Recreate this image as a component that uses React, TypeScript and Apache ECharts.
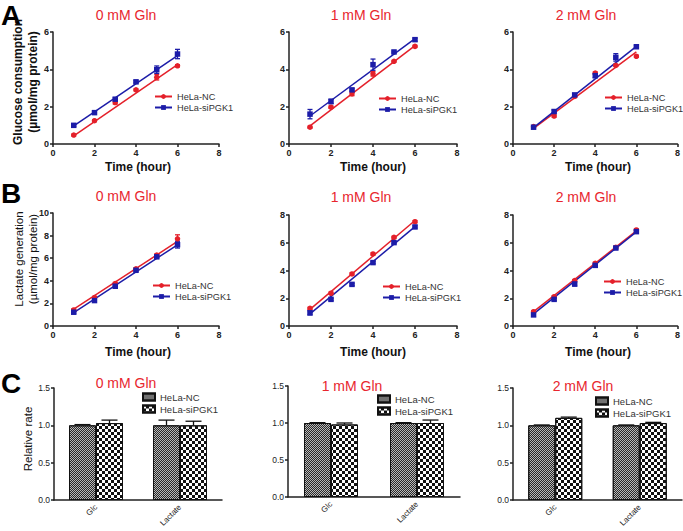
import React, { useEffect, useRef } from "react";
import * as echarts from "echarts";

// ---------- DATA ----------
const hours = [1, 2, 3, 4, 5, 6];
const fitHours = [1, 6];
const conditions = ["0 mM Gln", "1 mM Gln", "2 mM Gln"];
const seriesNames = ["HeLa-NC", "HeLa-siPGK1"];
const barCategories = ["Glc", "Lactate"];
const xTicksMax = 8;
const glcYMax = [6, 6, 6];
const lacYMax = [10, 8, 8];

// Glucose consumption (µmol/mg protein)
const glc0NC = [0.48, 1.25, 2.22, 2.9, 3.58, 4.19];
const glc0NCErr = [0.05, 0.05, 0.08, 0.05, 0.15, 0.06];
const glc0Si = [1.0, 1.68, 2.4, 3.33, 3.98, 4.82];
const glc0SiErr = [0.05, 0.05, 0.08, 0.06, 0.2, 0.25];
const glc0NCFit = [0.43, 4.25];
const glc0SiFit = [0.97, 4.73];

const glc1NC = [0.9, 1.97, 2.69, 3.76, 4.43, 5.23];
const glc1NCErr = [0.05, 0.06, 0.1, 0.12, 0.05, 0.06];
const glc1Si = [1.6, 2.28, 2.9, 4.25, 4.93, 5.59];
const glc1SiErr = [0.25, 0.12, 0.06, 0.3, 0.05, 0.08];
const glc1NCFit = [0.97, 5.27];
const glc1SiFit = [1.5, 5.64];

const glc2NC = [0.93, 1.5, 2.55, 3.8, 4.21, 4.7];
const glc2NCErr = [0.05, 0.06, 0.06, 0.06, 0.05, 0.06];
const glc2Si = [0.9, 1.74, 2.63, 3.66, 4.64, 5.21];
const glc2SiErr = [0.05, 0.08, 0.05, 0.1, 0.2, 0.06];
const glc2NCFit = [0.84, 4.93];
const glc2SiFit = [0.88, 5.23];

// Lactate generation (µmol/mg protein)
const lac0NC = [1.42, 2.52, 3.76, 5.06, 6.27, 7.72];
const lac0NCErr = [0.1, 0.1, 0.1, 0.1, 0.1, 0.35];
const lac0Si = [1.22, 2.25, 3.52, 4.93, 6.12, 7.2];
const lac0SiErr = [0.08, 0.08, 0.08, 0.08, 0.1, 0.3];
const lac0NCFit = [1.5, 7.48];
const lac0SiFit = [1.18, 7.19];

const lac1NC = [1.27, 2.36, 3.75, 5.19, 6.39, 7.52];
const lac1NCErr = [0.08, 0.08, 0.08, 0.08, 0.08, 0.08];
const lac1Si = [0.95, 1.92, 3.0, 4.57, 6.01, 7.14];
const lac1SiErr = [0.15, 0.08, 0.08, 0.08, 0.08, 0.08];
const lac1NCFit = [1.2, 7.6];
const lac1SiFit = [0.87, 7.16];

const lac2NC = [1.03, 2.11, 3.27, 4.52, 5.67, 6.92];
const lac2NCErr = [0.08, 0.08, 0.08, 0.08, 0.08, 0.08];
const lac2Si = [0.8, 1.92, 3.03, 4.37, 5.62, 6.8];
const lac2SiErr = [0.1, 0.08, 0.15, 0.08, 0.08, 0.08];
const lac2NCFit = [1.03, 6.85];
const lac2SiFit = [0.87, 6.78];

// Relative rate (Glc, Lactate)
const rel0NC = [1.0, 1.0];
const rel0NCErr = [0.01, 0.07];
const rel0Si = [1.03, 1.0];
const rel0SiErr = [0.04, 0.055];
const rel1NC = [1.0, 1.0];
const rel1NCErr = [0.005, 0.005];
const rel1Si = [0.98, 1.0];
const rel1SiErr = [0.02, 0.04];
const rel2NC = [1.0, 1.0];
const rel2NCErr = [0.005, 0.005];
const rel2Si = [1.1, 1.03];
const rel2SiErr = [0.01, 0.01];

// ---------- STYLE / LAYOUT ----------
const FONT = "'Liberation Sans', Arial, Helvetica, sans-serif";
const RED = "#e4202a";
const BLUE = "#1c1ca8";
const TITLE_RED = "#e8262e";
const AXIS = "#222";

const linePanels = [
  { nc: glc0NC, ncErr: glc0NCErr, ncFit: glc0NCFit, si: glc0Si, siErr: glc0SiErr, siFit: glc0SiFit, yMax: glcYMax[0] },
  { nc: glc1NC, ncErr: glc1NCErr, ncFit: glc1NCFit, si: glc1Si, siErr: glc1SiErr, siFit: glc1SiFit, yMax: glcYMax[1] },
  { nc: glc2NC, ncErr: glc2NCErr, ncFit: glc2NCFit, si: glc2Si, siErr: glc2SiErr, siFit: glc2SiFit, yMax: glcYMax[2] },
  { nc: lac0NC, ncErr: lac0NCErr, ncFit: lac0NCFit, si: lac0Si, siErr: lac0SiErr, siFit: lac0SiFit, yMax: lacYMax[0] },
  { nc: lac1NC, ncErr: lac1NCErr, ncFit: lac1NCFit, si: lac1Si, siErr: lac1SiErr, siFit: lac1SiFit, yMax: lacYMax[1] },
  { nc: lac2NC, ncErr: lac2NCErr, ncFit: lac2NCFit, si: lac2Si, siErr: lac2SiErr, siFit: lac2SiFit, yMax: lacYMax[2] },
];
const barPanels = [
  { nc: rel0NC, ncErr: rel0NCErr, si: rel0Si, siErr: rel0SiErr },
  { nc: rel1NC, ncErr: rel1NCErr, si: rel1Si, siErr: rel1SiErr },
  { nc: rel2NC, ncErr: rel2NCErr, si: rel2Si, siErr: rel2SiErr },
];

const grids = [
  { left: 53, top: 32, width: 166, height: 112 },
  { left: 289, top: 32, width: 168, height: 112 },
  { left: 513, top: 32, width: 168, height: 112 },
  { left: 53, top: 213, width: 166, height: 113 },
  { left: 289, top: 215, width: 168, height: 111 },
  { left: 513, top: 215, width: 168, height: 111 },
  { left: 54, top: 388, width: 168, height: 112 },
  { left: 288, top: 386, width: 172, height: 111 },
  { left: 513, top: 388, width: 169, height: 112 },
];
const legendPos = [
  [154, 92], [378, 94], [604, 93],
  [152, 281], [382, 282], [603, 277],
  [142, 392], [377, 394], [595, 396],
];
const titlePos = [
  [126, 15], [361, 15], [586, 15],
  [126, 196], [361, 197], [586, 197],
  [126, 383], [352, 386], [583, 386],
];
const timeLabelPos = [
  [138, 167], [373, 167], [598, 167],
  [138, 352], [373, 352], [598, 352],
];
const BAR_W = 27;

const axisLineStyle = { color: AXIS, width: 1.5 };

function errRender(color: string, cap: number) {
  return (params: any, api: any) => {
    const x = api.value(0);
    const y = api.value(1);
    const e = api.value(2);
    const t = api.coord([x, y + e]);
    const b = api.coord([x, y - e]);
    const st = { stroke: color, lineWidth: 1.3 };
    return {
      type: "group",
      children: [
        { type: "line", shape: { x1: t[0], y1: t[1], x2: b[0], y2: b[1] }, style: st },
        { type: "line", shape: { x1: t[0] - cap, y1: t[1], x2: t[0] + cap, y2: t[1] }, style: st },
        { type: "line", shape: { x1: b[0] - cap, y1: b[1], x2: b[0] + cap, y2: b[1] }, style: st },
      ],
    };
  };
}

function barErrRender(offset: number) {
  return (params: any, api: any) => {
    const i = api.value(0);
    const v = api.value(1);
    const e = api.value(2);
    const base = api.coord([i, v]);
    const top = api.coord([i, v + e]);
    const cx = base[0] + offset;
    const st = { stroke: "#111", lineWidth: 1.3 };
    return {
      type: "group",
      children: [
        { type: "line", shape: { x1: cx, y1: base[1], x2: cx, y2: top[1] }, style: st },
        { type: "line", shape: { x1: cx - 8, y1: top[1], x2: cx + 8, y2: top[1] }, style: st },
      ],
    };
  };
}

const ncDecal = {
  symbol: "rect",
  symbolSize: 1,
  color: "#2a2a2a",
  dashArrayX: [[1, 1], [0, 1, 1, 0]],
  dashArrayY: [1, 0],
  rotation: 0,
};
const siDecal = {
  symbol: "rect",
  symbolSize: 1,
  color: "#111",
  dashArrayX: [[3, 3], [0, 3, 3, 0]],
  dashArrayY: [3, 0],
  rotation: 0,
};

function buildOption() {
  const xAxis: any[] = [];
  const yAxis: any[] = [];
  const series: any[] = [];
  const legend: any[] = [];
  const graphic: any[] = [];

  linePanels.forEach((p, g) => {
    xAxis.push({
      type: "value", gridIndex: g, min: 0, max: xTicksMax, interval: 2,
      axisLine: { show: true, onZero: false, lineStyle: axisLineStyle },
      axisTick: { show: true, length: 3, lineStyle: axisLineStyle },
      axisLabel: { fontSize: 9, fontWeight: "bold", color: AXIS, fontFamily: FONT, margin: 4 },
      splitLine: { show: false },
    });
    yAxis.push({
      type: "value", gridIndex: g, min: 0, max: p.yMax, interval: 2,
      axisLine: { show: true, onZero: false, lineStyle: axisLineStyle },
      axisTick: { show: true, length: 3, lineStyle: axisLineStyle },
      axisLabel: { fontSize: 9, fontWeight: "bold", color: AXIS, fontFamily: FONT, margin: 4 },
      splitLine: { show: false },
    });
    series.push({
      type: "line", name: seriesNames[0], xAxisIndex: g, yAxisIndex: g,
      data: fitHours.map((h, i) => [h, p.ncFit[i]]),
      symbol: "circle", symbolSize: 6, showSymbol: false,
      lineStyle: { color: RED, width: 1.5 }, itemStyle: { color: RED }, z: 2,
    });
    series.push({
      type: "line", name: seriesNames[1], xAxisIndex: g, yAxisIndex: g,
      data: fitHours.map((h, i) => [h, p.siFit[i]]),
      symbol: "rect", symbolSize: 6, showSymbol: false,
      lineStyle: { color: BLUE, width: 1.5 }, itemStyle: { color: BLUE }, z: 2,
    });
    series.push({
      type: "custom", name: seriesNames[0], xAxisIndex: g, yAxisIndex: g,
      data: hours.map((h, i) => [h, p.nc[i], p.ncErr[i]]),
      encode: { x: 0, y: 1 }, renderItem: errRender(RED, 2.5), z: 3,
    });
    series.push({
      type: "custom", name: seriesNames[1], xAxisIndex: g, yAxisIndex: g,
      data: hours.map((h, i) => [h, p.si[i], p.siErr[i]]),
      encode: { x: 0, y: 1 }, renderItem: errRender(BLUE, 2.5), z: 3,
    });
    series.push({
      type: "scatter", name: seriesNames[0], xAxisIndex: g, yAxisIndex: g,
      data: hours.map((h, i) => [h, p.nc[i]]),
      symbol: "circle", symbolSize: 5.5, itemStyle: { color: RED, opacity: 1 }, z: 4,
    });
    series.push({
      type: "scatter", name: seriesNames[1], xAxisIndex: g, yAxisIndex: g,
      data: hours.map((h, i) => [h, p.si[i]]),
      symbol: "rect", symbolSize: 5.5, itemStyle: { color: BLUE, opacity: 1 }, z: 4,
    });
    legend.push({
      data: seriesNames, orient: "vertical", left: legendPos[g][0], top: legendPos[g][1],
      itemWidth: 17, itemHeight: 6, itemGap: 2, padding: 0, selectedMode: false,
      textStyle: { fontSize: 9.2, color: "#333", fontFamily: FONT },
    });
  });

  barPanels.forEach((p, k) => {
    const g = k + 6;
    xAxis.push({
      type: "category", gridIndex: g, data: barCategories,
      axisLine: { show: true, lineStyle: axisLineStyle },
      axisTick: { show: false },
      axisLabel: { fontSize: 8, rotate: 45, color: AXIS, fontFamily: FONT, margin: 6 },
    });
    yAxis.push({
      type: "value", gridIndex: g, min: 0, max: 1.5, interval: 0.5,
      axisLine: { show: true, lineStyle: axisLineStyle },
      axisTick: { show: true, length: 3, lineStyle: axisLineStyle },
      axisLabel: { fontSize: 8.5, color: AXIS, fontFamily: FONT, margin: 4, formatter: (v: number) => v.toFixed(1) },
      splitLine: { show: false },
    });
    series.push({
      type: "bar", name: seriesNames[0] + "#bar", xAxisIndex: g, yAxisIndex: g,
      data: p.nc, barWidth: BAR_W, barGap: "0%",
      itemStyle: { color: "#b8b8b8", borderColor: "#111", borderWidth: 1, decal: ncDecal },
    });
    series.push({
      type: "bar", name: seriesNames[1] + "#bar", xAxisIndex: g, yAxisIndex: g,
      data: p.si, barWidth: BAR_W, barGap: "0%",
      itemStyle: { color: "#fff", borderColor: "#111", borderWidth: 1, decal: siDecal },
    });
    series.push({
      type: "custom", xAxisIndex: g, yAxisIndex: g,
      data: barCategories.map((c, i) => [i, p.nc[i], p.ncErr[i]]),
      encode: { x: 0, y: 1 }, renderItem: barErrRender(-BAR_W / 2), z: 5,
    });
    series.push({
      type: "custom", xAxisIndex: g, yAxisIndex: g,
      data: barCategories.map((c, i) => [i, p.si[i], p.siErr[i]]),
      encode: { x: 0, y: 1 }, renderItem: barErrRender(BAR_W / 2), z: 5,
    });
    legend.push({
      data: seriesNames.map((n) => n + "#bar"), orient: "vertical",
      left: legendPos[g][0], top: legendPos[g][1], icon: "rect",
      itemWidth: 12, itemHeight: 7, itemGap: 2, padding: 0, selectedMode: false,
      formatter: (n: string) => n.split("#")[0],
      textStyle: { fontSize: 9.5, color: "#333", fontFamily: FONT },
    });
  });

  // Panel titles
  titlePos.forEach((pos, i) => {
    graphic.push({
      type: "text", x: pos[0], y: pos[1],
      style: { text: conditions[i % 3], fill: TITLE_RED, font: `14px ${FONT}`, textAlign: "center", textVerticalAlign: "middle" },
    });
  });
  timeLabelPos.forEach((pos) => {
    graphic.push({
      type: "text", x: pos[0], y: pos[1],
      style: { text: "Time (hour)", fill: "#111", font: `bold 12px ${FONT}`, textAlign: "center", textVerticalAlign: "middle" },
    });
  });
  // Panel letters
  [["A", 11, 15], ["B", 11, 193], ["C", 11, 383]].forEach(([t, x, y]) => {
    graphic.push({
      type: "text", x, y,
      style: { text: t as string, fill: "#000", font: `bold 28px ${FONT}`, textAlign: "center", textVerticalAlign: "middle" },
    });
  });
  // Y-axis titles
  const yTitles: [string, number, number, string][] = [
    ["Glucose consumption", 18, 82, `bold 12px ${FONT}`],
    ["(µmol/mg protein)", 33, 82, `bold 12px ${FONT}`],
    ["Lactate generation", 19, 259, `11.5px ${FONT}`],
    ["(µmol/mg protein)", 33, 259, `11.5px ${FONT}`],
    ["Relative rate", 28, 439, `11.5px ${FONT}`],
  ];
  yTitles.forEach(([t, x, y, f]) => {
    graphic.push({
      type: "text", x, y, rotation: Math.PI / 2,
      style: { text: t, fill: "#111", font: f, textAlign: "center", textVerticalAlign: "middle" },
    });
  });

  return {
    animation: false,
    backgroundColor: "#fff",
    textStyle: { fontFamily: FONT },
    grid: grids.map((g) => ({ ...g, containLabel: false })),
    xAxis,
    yAxis,
    series,
    legend,
    graphic,
  };
}

export default function App() {
  const ref = useRef<HTMLDivElement>(null);
  useEffect(() => {
    if (!ref.current) return;
    const chart = echarts.init(ref.current, undefined, { renderer: "svg" });
    chart.setOption(buildOption() as any);
    return () => chart.dispose();
  }, []);
  return (
    <div
      ref={ref}
      style={{ position: "absolute", left: 0, top: 0, width: 683, height: 531, background: "#fff" }}
    />
  );
}
